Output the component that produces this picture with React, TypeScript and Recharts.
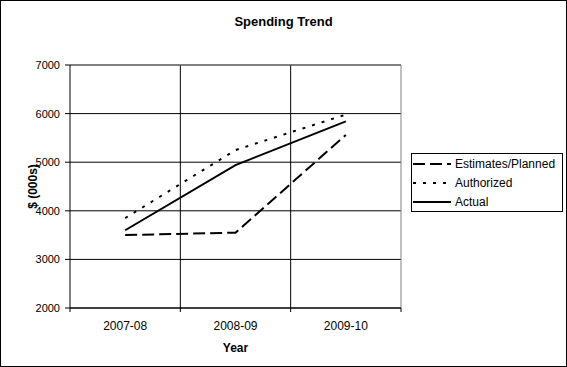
import { LineChart, Line, XAxis, YAxis, CartesianGrid, Legend, ReferenceLine, Label } from 'recharts'

const years = ['2007-08', '2008-09', '2009-10']
const estimates = [3500, 3550, 5560]
const authorized = [3850, 5250, 5980]
const actual = [3600, 4940, 5840]
const yTicks = [2000, 3000, 4000, 5000, 6000, 7000]
const xTicks = [-0.5, 0, 0.5, 1, 1.5, 2, 2.5]
const dividers = [0.5, 1.5]

const series = [
  { key: 'estimates', name: 'Estimates/Planned', dash: '12 5' },
  { key: 'authorized', name: 'Authorized', dash: '3 7' },
  { key: 'actual', name: 'Actual', dash: undefined },
]

const data = years.map((year, i) => ({
  x: i,
  year,
  estimates: estimates[i],
  authorized: authorized[i],
  actual: actual[i],
}))

const FONT = '"Liberation Sans", Arial, sans-serif'

function XTick({ x, y, payload }: any) {
  const v = payload.value
  if (Number.isInteger(v)) {
    return (
      <text x={x} y={y + 22} textAnchor="middle" fontSize={12} fill="#000">
        {years[v]}
      </text>
    )
  }
  return <line x1={x} x2={x} y1={y} y2={y + 4} stroke="#000" />
}

function LegendBox() {
  return (
    <div
      style={{
        width: 152,
        height: 59,
        border: '1px solid #000',
        boxSizing: 'border-box',
        background: '#fff',
        paddingTop: 0,
      }}
    >
      {series.map((s) => (
        <div key={s.key} style={{ display: 'flex', alignItems: 'center', height: 19 }}>
          <svg width={42} height={10} style={{ marginLeft: 1 }}>
            <line x1={0} x2={38} y1={5} y2={5} stroke="#000" strokeWidth={2} strokeDasharray={s.dash} />
          </svg>
          <span style={{ fontSize: 12, color: '#000', fontFamily: FONT }}>{s.name}</span>
        </div>
      ))}
    </div>
  )
}

export default function App() {
  return (
    <div
      style={{
        position: 'fixed',
        left: 0,
        top: 0,
        width: 567,
        height: 367,
        background: '#fff',
        fontFamily: FONT,
      }}
    >
      <div
        style={{
          position: 'absolute',
          top: 14,
          left: 0,
          width: 567,
          textAlign: 'center',
          fontWeight: 'bold',
          fontSize: 13,
        }}
      >
        Spending Trend
      </div>
      <LineChart width={567} height={367} data={data} margin={{ top: 65, right: 166, bottom: 14, left: 12 }}>
        <CartesianGrid vertical={false} stroke="#000" />
        <XAxis
          dataKey="x"
          type="number"
          domain={[-0.5, 2.5]}
          ticks={xTicks}
          tick={<XTick />}
          tickLine={false}
          tickSize={0}
          tickMargin={0}
          height={45}
          axisLine={{ stroke: '#000' }}
        >
          <Label
            content={({ viewBox }: any) => (
              <text
                x={viewBox.x + viewBox.width / 2}
                y={viewBox.y + 44}
                textAnchor="middle"
                fontSize={12}
                fontWeight="bold"
                fill="#000"
              >
                Year
              </text>
            )}
          />
        </XAxis>
        <YAxis
          type="number"
          domain={[2000, 7000]}
          ticks={yTicks}
          width={58}
          tickSize={5}
          tickMargin={5}
          tick={{ fill: '#000', fontSize: 11 }}
          tickLine={{ stroke: '#000' }}
          axisLine={{ stroke: '#000' }}
        >
          <Label
            content={({ viewBox }: any) => {
              const cx = viewBox.x + 21
              const cy = viewBox.y + viewBox.height / 2
              return (
                <text
                  x={cx}
                  y={cy}
                  transform={`rotate(-90, ${cx}, ${cy})`}
                  textAnchor="middle"
                  dominantBaseline="central"
                  fontSize={12}
                  fontWeight="bold"
                  fill="#000"
                >
                  $ (000s)
                </text>
              )
            }}
          />
        </YAxis>
        {dividers.map((d) => (
          <ReferenceLine key={d} x={d} stroke="#000" />
        ))}
        <ReferenceLine y={7000} stroke="#808080" />
        <ReferenceLine x={2.5} stroke="#808080" />
        <Legend
          layout="vertical"
          align="center"
          verticalAlign="middle"
          content={<LegendBox />}
          wrapperStyle={{ left: 411, top: 153, width: 152, height: 59 }}
        />
        {series.map((s) => (
          <Line
            key={s.key}
            dataKey={s.key}
            name={s.name}
            stroke="#000"
            strokeWidth={2}
            strokeDasharray={s.dash}
            dot={false}
            activeDot={false}
            isAnimationActive={false}
          />
        ))}
      </LineChart>
      <div
        style={{
          position: 'absolute',
          inset: 0,
          border: '1px solid #000',
          pointerEvents: 'none',
        }}
      />
    </div>
  )
}
